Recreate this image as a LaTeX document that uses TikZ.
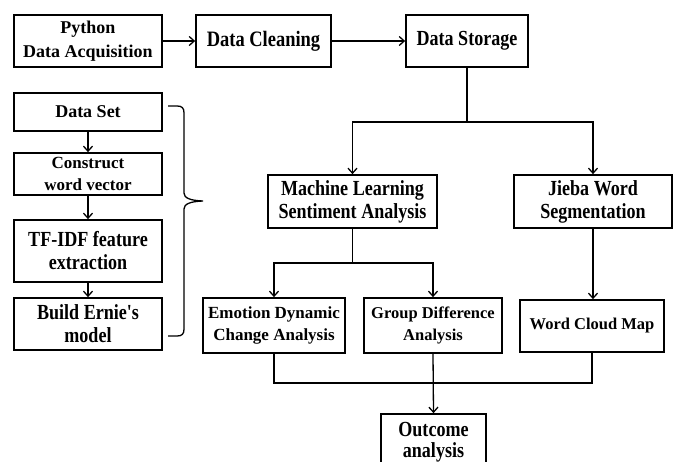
\documentclass[tikz,border=0pt]{standalone}
\usepackage{fontspec}
\setmainfont{Liberation Serif}
\newfontfamily\condf{Liberation Serif}[FakeStretch=0.84]
\usetikzlibrary{arrows.meta}
\tikzset{
  box/.style={draw, line width=1.7pt, inner sep=0pt, align=center, fill=white,
    font=\condf\bfseries\fontsize{21.5}{23}\selectfont},
  plain/.style={font=\rmfamily\bfseries\fontsize{17}{22}\selectfont},
  conn/.style={line width=1.3pt},
  arr/.style={conn, -{Straight Barb[length=5pt,width=9pt,line width=1.3pt]}},
}
\begin{document}
\begin{tikzpicture}[x=1pt,y=-1pt]
\clip (0,0) rectangle (676,462);
\fill[white] (0,0) rectangle (676,462);
% top row
\node[box, plain, font=\rmfamily\bfseries\fontsize{18}{24}\selectfont, minimum width=148pt, minimum height=52pt] (py) at (88,41) {Python\\Data Acquisition};
\node[box, font=\condf\bfseries\fontsize{22}{24}\selectfont, minimum width=135pt, minimum height=52pt] (dc) at (263.5,41) {Data Cleaning};
\node[box, minimum width=122pt, minimum height=52pt] (ds) at (467,41) {Data Storage};
% left column
\node[box, plain, font=\rmfamily\bfseries\fontsize{18}{22}\selectfont, minimum width=148pt, minimum height=38pt] (set) at (88,112) {Data Set};
\node[box, plain, minimum width=148pt, minimum height=42pt] (cwv) at (88,174) {Construct\\word vector};
\node[box, minimum width=148pt, minimum height=62pt] (tf) at (88,251) {TF-IDF feature\\extraction};
\node[box, minimum width=148pt, minimum height=52pt] (be) at (88,324) {Build Ernie's\\model};
% middle
\node[box, minimum width=169pt, minimum height=53pt] (ml) at (352.5,201.5) {Machine Learning\\Sentiment Analysis};
\node[box, minimum width=158pt, minimum height=53pt] (jb) at (593,201.5) {Jieba Word\\Segmentation};
\node[box, plain, minimum width=142pt, minimum height=55pt] (em) at (274,325.5) {Emotion Dynamic\\Change Analysis};
\node[box, plain, font=\rmfamily\bfseries\fontsize{16.5}{22}\selectfont, minimum width=138pt, minimum height=55pt] (gd) at (433,325.5) {Group Difference\\Analysis};
\node[box, plain, font=\rmfamily\bfseries\fontsize{16.5}{22}\selectfont, minimum width=144pt, minimum height=52pt] (wc) at (592,326) {Word Cloud Map};
\node[box, font=\condf\bfseries\fontsize{21.5}{21}\selectfont, minimum width=105pt, minimum height=56pt] (oc) at (433.5,442) {Outcome\\analysis};
% junctions
\coordinate (j1) at (467,122);
\coordinate (j2) at (352.5,263);
\coordinate (j3) at (433,383);
% connectors
\draw[arr] (py) -- (dc);
\draw[arr] (dc) -- (ds);
\draw[conn] (ds.south) -- (j1);
\draw[arr] (j1) -| (ml.north);
\draw[arr] (j1) -| (jb.north);
\draw[conn] (ml.south) -- (j2);
\draw[arr] (j2) -| (em.north);
\draw[arr] (j2) -| (gd.north);
\draw[arr] (jb.south) -- (jb.south |- wc.north);
\draw[conn] (em.south) |- (j3);
\draw[conn] (wc.south) |- (j3);
\draw[arr] (gd.south) -- (oc.north);
\draw[arr] (set) -- (cwv);
\draw[arr] (cwv) -- (tf);
\draw[arr] (tf) -- (be);
% brace
\draw[conn] (168,106) -- (177,106) .. controls (182,106) and (184,108) .. (184,113)
  -- (184,193) .. controls (184,198) and (190,200.5) .. (203,201)
  .. controls (190,201.5) and (184,204) .. (184,209)
  -- (184,329) .. controls (184,334) and (182,336) .. (177,336) -- (168,336);
\end{tikzpicture}
\end{document}
